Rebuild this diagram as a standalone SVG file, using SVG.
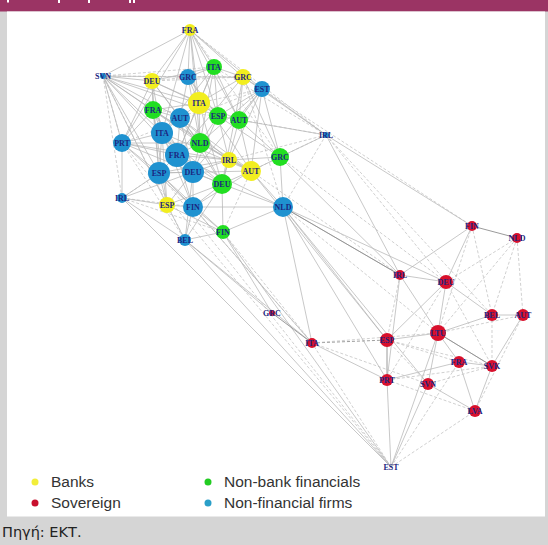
<svg xmlns="http://www.w3.org/2000/svg" width="548" height="545" viewBox="0 0 548 545">
<style>
.e{fill:none;stroke:#b5b5b5;stroke-width:0.75}
.d{fill:none;stroke:#bbbbbb;stroke-width:0.7;stroke-dasharray:3 2}
.s{fill:none;stroke:#8f8f8f;stroke-width:0.9}
.sd{fill:none;stroke:#939393;stroke-width:0.9;stroke-dasharray:3 2}
.y{fill:#f2ee1f}
.g{fill:#22de22}
.b{fill:#1f92d0}
.r{fill:#d8102c}
.l{font-family:"Liberation Serif",serif;font-weight:bold;font-size:8px;fill:#1c2680;text-anchor:middle}
.lg{font-family:"Liberation Sans",Arial,sans-serif;font-size:15.5px;fill:#333}
</style>
<rect x="0" y="0" width="548" height="545" fill="#d5d5d5"/>
<rect x="0" y="0" width="548" height="11.5" fill="#9b3464"/>
<g fill="#ffffff">
<rect x="7" y="0" width="2" height="2.5"/>
<rect x="58" y="0" width="2" height="3"/>
<rect x="88" y="0" width="2" height="3"/>
<rect x="129" y="0" width="2" height="3"/>
<rect x="133" y="0" width="2" height="3"/>
</g>
<rect x="7" y="11.5" width="538" height="505" fill="#ffffff"/>
<g id="connectors">
<path class="e" d="M190 30L103 76M190 30L152 81M190 30L188 77M190 30L214 67M190 30L243 77M190 30L218 116M190 30L200 143M190 30L122 143M190 30L199 103M190 30L262 89M190 30L162 133M190 30L239 120
M103 76L152 81M103 76L188 77M103 76L153 110M103 76L162 133M103 76L122 143M103 76L177 155M103 76L199 103M103 76L200 143M103 76L159 173M103 76L167 205
M152 81L153 110M152 81L199 103M152 81L180 118M152 81L162 133M152 81L214 67M152 81L122 143M152 81L159 173M152 81L200 143
M188 77L214 67M188 77L199 103M188 77L243 77M188 77L180 118M188 77L218 116M188 77L200 143
M243 77L262 89M243 77L214 67M243 77L239 120M243 77L326 135M243 77L199 103M243 77L280 157
M262 89L239 120M262 89L326 135M262 89L280 157M262 89L251 171M262 89L218 116M262 89L200 143
M214 67L199 103M214 67L218 116M214 67L239 120M214 67L200 143
M199 103L218 116M199 103L180 118M199 103L200 143M199 103L177 155M199 103L153 110M199 103L222 184
M153 110L180 118M153 110L162 133M153 110L122 143M153 110L177 155M153 110L159 173M153 110L193 172M153 110L167 205
M218 116L239 120M218 116L200 143M218 116L229 160M218 116L280 157M218 116L193 172
M239 120L280 157M239 120L326 135M239 120L251 171M239 120L222 184
M180 118L162 133M180 118L177 155M180 118L200 143M180 118L193 172M180 118L222 184
M162 133L122 143M162 133L177 155M162 133L159 173M162 133L193 207M162 133L167 205
M122 143L159 173M122 143L122 198M122 143L177 155M122 143L193 207
M177 155L193 172M177 155L159 173M177 155L200 143M177 155L193 207M177 155L229 160
M193 172L159 173M193 172L200 143M193 172L229 160M193 172L222 184M193 172L193 207M193 172L167 205
M200 143L229 160M200 143L222 184M200 143L251 171
M229 160L251 171M229 160L222 184M229 160L280 157
M251 171L280 157M251 171L222 184M251 171L283 207
M280 157L326 135M280 157L283 207
M222 184L283 207M222 184L193 207M222 184L223 232
M159 173L122 198M159 173L167 205M159 173L193 207M159 173L223 232
M122 198L167 205M122 198L185 240
M167 205L193 207M167 205L185 240M167 205L223 232
M193 207L185 240M193 207L223 232
M185 240L223 232M223 232L283 207
M152 81L239 120M188 77L251 171M214 67L177 155M214 67L162 133M243 77L177 155M243 77L222 184M262 89L193 172M262 89L229 160M122 143L229 160M122 143L200 143M122 143L222 184M153 110L251 171M153 110L229 160M162 133L222 184M162 133L251 171M180 118L251 171M180 118L229 160M177 155L222 184M177 155L283 207M159 173L229 160M159 173L251 171M193 207L251 171M193 207L283 207M167 205L222 184M122 198L193 172M185 240L222 184M185 240L193 172M103 76L218 116M103 76L180 118"/>
<path class="d" d="M103 76L122 198M103 76L185 240M122 143L185 240M190 30L280 157M190 30L326 135M326 135L218 116M326 135L214 67M326 135L251 171M326 135L229 160M326 135L283 207M243 77L283 207M223 232L251 171M122 198L223 232M122 198L193 207M103 76L243 77M152 81L243 77M122 143L262 89M103 76L122 143M103 76L214 67M152 81L188 77M199 103L262 89M153 110L218 116M122 198L159 173"/>
<path class="e" d="M283 207L400 275M283 207L387 340M283 207L446 282M283 207L312 343M185 240L272 313M223 232L272 313M185 240L312 343M280 157L400 275M326 135L400 275M326 135L472 226M122 198L391 467M185 240L391 467M223 232L391 467M283 207L428 384M251 171L387 340M283 207L387 380M193 207L312 343"/>
<path class="d" d="M283 207L438 333M193 207L312 343M326 135L446 282M280 157L446 282M223 232L312 343M262 89L472 226M326 135L492 315M122 143L391 467M159 173L391 467M251 171L400 275"/>
<path class="e" d="M472 226L446 282M472 226L400 275M400 275L446 282M446 282L387 340M446 282L438 333M446 282L492 315M492 315L523 315M492 315L438 333M438 333L387 340M438 333L459 362M438 333L492 366M438 333L428 384M387 380L459 362M459 362L475 411M492 366L475 411M428 384L475 411M459 362L492 366M391 467L428 384M391 467L387 380M391 467L438 333M523 315L492 366M400 275L438 333M400 275L387 380M312 343L387 380"/>
<path class="s" d="M472 226L517 238M272 313L312 343M387 340L387 380M283 207L400 275M438 333L492 366"/>
<path class="sd" d="M312 343L387 340"/>
<path class="d" d="M517 238L492 315M517 238L523 315M517 238L438 333M472 226L438 333M472 226L492 315M400 275L387 340M312 343L438 333M387 340L492 366M387 340L459 362M387 380L492 366M428 384L492 366M523 315L475 411M492 315L492 366M446 282L492 366M446 282L387 380M387 340L428 384M391 467L475 411M391 467L312 343M391 467L459 362M387 380L475 411M312 343L428 384M517 238L446 282M523 315L438 333"/>
</g>
<g id="n-bank-FRA"><circle class="y" cx="190" cy="30" r="6"/><text class="l" x="190" y="32.8">FRA</text></g>
<g id="n-bank-DEU"><circle class="y" cx="152" cy="81" r="8"/><text class="l" x="152" y="83.8">DEU</text></g>
<g id="n-bank-GRC"><circle class="y" cx="243" cy="77" r="8"/><text class="l" x="243" y="79.8">GRC</text></g>
<g id="n-bank-ITA"><circle class="y" cx="199" cy="103" r="11"/><text class="l" x="199" y="105.8">ITA</text></g>
<g id="n-bank-IRL"><circle class="y" cx="229" cy="160" r="8"/><text class="l" x="229" y="162.8">IRL</text></g>
<g id="n-bank-AUT"><circle class="y" cx="251" cy="171" r="10"/><text class="l" x="251" y="173.8">AUT</text></g>
<g id="n-bank-ESP"><circle class="y" cx="167" cy="205" r="8"/><text class="l" x="167" y="207.8">ESP</text></g>
<g id="n-nbf-ITA"><circle class="g" cx="214" cy="67" r="8"/><text class="l" x="214" y="69.8">ITA</text></g>
<g id="n-nbf-FRA"><circle class="g" cx="153" cy="110" r="9"/><text class="l" x="153" y="112.8">FRA</text></g>
<g id="n-nbf-ESP"><circle class="g" cx="218" cy="116" r="9"/><text class="l" x="218" y="118.8">ESP</text></g>
<g id="n-nbf-AUT"><circle class="g" cx="239" cy="120" r="9"/><text class="l" x="239" y="122.8">AUT</text></g>
<g id="n-nbf-NLD"><circle class="g" cx="200" cy="143" r="10"/><text class="l" x="200" y="145.8">NLD</text></g>
<g id="n-nbf-GRC"><circle class="g" cx="280" cy="157" r="9"/><text class="l" x="280" y="159.8">GRC</text></g>
<g id="n-nbf-DEU"><circle class="g" cx="222" cy="184" r="10"/><text class="l" x="222" y="186.8">DEU</text></g>
<g id="n-nbf-FIN"><circle class="g" cx="223" cy="232" r="7"/><text class="l" x="223" y="234.8">FIN</text></g>
<g id="n-nff-SVN"><circle class="b" cx="103" cy="76" r="3"/><text class="l" x="103" y="78.8">SVN</text></g>
<g id="n-nff-GRC"><circle class="b" cx="188" cy="77" r="8"/><text class="l" x="188" y="79.8">GRC</text></g>
<g id="n-nff-EST"><circle class="b" cx="262" cy="89" r="8"/><text class="l" x="262" y="91.8">EST</text></g>
<g id="n-nff-AUT"><circle class="b" cx="180" cy="118" r="10"/><text class="l" x="180" y="120.8">AUT</text></g>
<g id="n-nff-ITA"><circle class="b" cx="162" cy="133" r="11"/><text class="l" x="162" y="135.8">ITA</text></g>
<g id="n-nff-PRT"><circle class="b" cx="122" cy="143" r="9"/><text class="l" x="122" y="145.8">PRT</text></g>
<g id="n-nff-FRA"><circle class="b" cx="177" cy="155" r="12"/><text class="l" x="177" y="157.8">FRA</text></g>
<g id="n-nff-DEU"><circle class="b" cx="193" cy="172" r="11"/><text class="l" x="193" y="174.8">DEU</text></g>
<g id="n-nff-ESP"><circle class="b" cx="159" cy="173" r="11"/><text class="l" x="159" y="175.8">ESP</text></g>
<g id="n-nff-IRL"><circle class="b" cx="326" cy="135" r="3"/><text class="l" x="326" y="137.8">IRL</text></g>
<g id="n-nff-NLD"><circle class="b" cx="283" cy="207" r="10"/><text class="l" x="283" y="209.8">NLD</text></g>
<g id="n-nff-IRL2"><circle class="b" cx="122" cy="198" r="5"/><text class="l" x="122" y="200.8">IRL</text></g>
<g id="n-nff-FIN"><circle class="b" cx="193" cy="207" r="10"/><text class="l" x="193" y="209.8">FIN</text></g>
<g id="n-nff-BEL"><circle class="b" cx="185" cy="240" r="6"/><text class="l" x="185" y="242.8">BEL</text></g>
<g id="n-sov-FIN"><circle class="r" cx="472" cy="226" r="5"/><text class="l" x="472" y="228.8">FIN</text></g>
<g id="n-sov-NLD"><circle class="r" cx="517" cy="238" r="5"/><text class="l" x="517" y="240.8">NLD</text></g>
<g id="n-sov-IRL"><circle class="r" cx="400" cy="275" r="5"/><text class="l" x="400" y="277.8">IRL</text></g>
<g id="n-sov-DEU"><circle class="r" cx="446" cy="282" r="7"/><text class="l" x="446" y="284.8">DEU</text></g>
<g id="n-sov-BEL"><circle class="r" cx="492" cy="315" r="6"/><text class="l" x="492" y="317.8">BEL</text></g>
<g id="n-sov-AUT"><circle class="r" cx="523" cy="315" r="6"/><text class="l" x="523" y="317.8">AUT</text></g>
<g id="n-sov-GRC"><circle class="r" cx="272" cy="313" r="3"/><text class="l" x="272" y="315.8">GRC</text></g>
<g id="n-sov-ITA"><circle class="r" cx="312" cy="343" r="5"/><text class="l" x="312" y="345.8">ITA</text></g>
<g id="n-sov-ESP"><circle class="r" cx="387" cy="340" r="7"/><text class="l" x="387" y="342.8">ESP</text></g>
<g id="n-sov-LTU"><circle class="r" cx="438" cy="333" r="8"/><text class="l" x="438" y="335.8">LTU</text></g>
<g id="n-sov-FRA"><circle class="r" cx="459" cy="362" r="6"/><text class="l" x="459" y="364.8">FRA</text></g>
<g id="n-sov-SVK"><circle class="r" cx="492" cy="366" r="6"/><text class="l" x="492" y="368.8">SVK</text></g>
<g id="n-sov-PRT"><circle class="r" cx="387" cy="380" r="6"/><text class="l" x="387" y="382.8">PRT</text></g>
<g id="n-sov-SVN"><circle class="r" cx="428" cy="384" r="6"/><text class="l" x="428" y="386.8">SVN</text></g>
<g id="n-sov-LVA"><circle class="r" cx="475" cy="411" r="6"/><text class="l" x="475" y="413.8">LVA</text></g>
<g id="n-sov-EST"><text class="l" x="391" y="469.8">EST</text></g>
<g id="legend">
<circle cx="35" cy="482" r="3.5" fill="#f2ee3a"/>
<text class="lg" x="51" y="487">Banks</text>
<circle cx="35" cy="503" r="3.5" fill="#c8102e"/>
<text class="lg" x="51" y="508">Sovereign</text>
<circle cx="208" cy="482" r="3.5" fill="#22cc22"/>
<text class="lg" x="224" y="487">Non-bank financials</text>
<circle cx="208" cy="503" r="3.5" fill="#2a9fc8"/>
<text class="lg" x="224" y="508">Non-financial firms</text>
</g>
<text x="2" y="537" font-family="DejaVu Sans, sans-serif" font-size="14.5" fill="#222">Πηγή: ΕΚΤ.</text>
</svg>
